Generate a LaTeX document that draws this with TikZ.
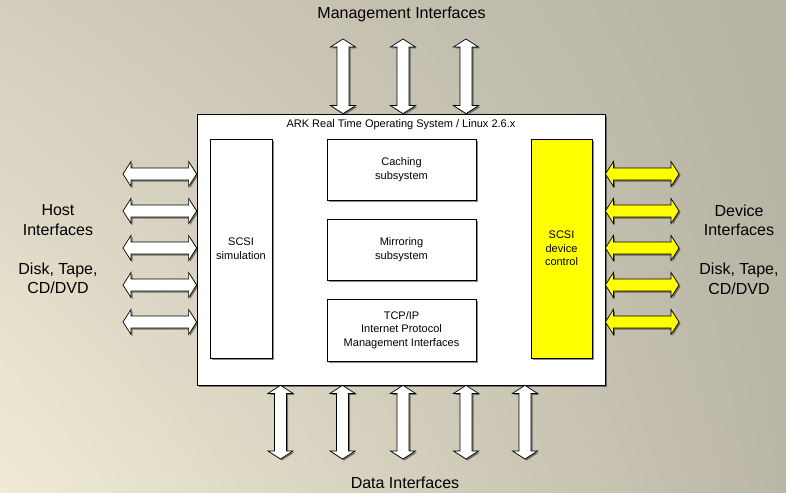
\documentclass[tikz,border=0pt]{standalone}
\usepackage{fontspec}
\setmainfont{Liberation Sans}
\usetikzlibrary{calc,shadows,shadings}
\definecolor{bgUL}{RGB}{210,205,189}
\definecolor{bgLL}{RGB}{241,235,213}
\definecolor{bgUR}{RGB}{182,179,164}
\definecolor{bgLR}{RGB}{187,183,167}
\definecolor{ylw}{RGB}{255,255,0}
\tikzset{
  shd/.style={drop shadow={shadow xshift=1.5pt, shadow yshift=-1.5pt, fill=black, opacity=0.45}},
  box/.style={draw=black, line width=0.7pt, fill=white, inner sep=0pt, align=center,
    font=\fontsize{11}{13.5}\selectfont, shd},
  barrow/.style={draw=black, line width=0.7pt, line join=miter, shd},
  biglabel/.style={font=\fontsize{16}{19.5}\selectfont, align=center, inner sep=0pt},
  smalllabel/.style={font=\fontsize{11}{13.5}\selectfont, inner sep=0pt},
}
% vertical double block arrow: #1 fill, #2 upper end, #3 lower end
\newcommand\vdarrow[3]{%
  \draw[barrow, fill=#1] let \p1=#2, \p2=#3 in
    (\x1,\y1) -- (\x1+12.5pt,\y1-8pt) -- (\x1+6pt,\y1-8pt) -- (\x1+6pt,\y2+8pt)
    -- (\x1+12.5pt,\y2+8pt) -- (\x1,\y2) -- (\x1-12.5pt,\y2+8pt) -- (\x1-6pt,\y2+8pt)
    -- (\x1-6pt,\y1-8pt) -- (\x1-12.5pt,\y1-8pt) -- cycle;}
% horizontal double block arrow: #1 fill, #2 left end, #3 right end
\newcommand\hdarrow[3]{%
  \draw[barrow, fill=#1] let \p1=#2, \p2=#3 in
    (\x1,\y1) -- (\x1+8pt,\y1+12.5pt) -- (\x1+8pt,\y1+6pt) -- (\x2-8pt,\y1+6pt)
    -- (\x2-8pt,\y1+12.5pt) -- (\x2,\y1) -- (\x2-8pt,\y1-12.5pt) -- (\x2-8pt,\y1-6pt)
    -- (\x1+8pt,\y1-6pt) -- (\x1+8pt,\y1-12.5pt) -- cycle;}
\begin{document}
\begin{tikzpicture}[x=1pt,y=-1pt]
\useasboundingbox (0,0) rectangle (786,492);
\shade[upper left=bgUL, lower left=bgLL, upper right=bgUR, lower right=bgLR] (0,0) rectangle (786,492);

% main OS box
\node[box, line width=0.8pt, minimum width=408pt, minimum height=271pt] (os) at (401,249.5) {};
\node[smalllabel, anchor=base] (title) at (401,128) {ARK Real Time Operating System / Linux 2.6.x};

% inner boxes
\node[box, minimum width=62pt, minimum height=219pt] (sim) at (241,248.5) {SCSI\\simulation};
\node[box, fill=ylw, minimum width=61pt, minimum height=219pt] (dev) at (561.5,248.5) {SCSI\\device\\control};
\node[box, minimum width=149pt, minimum height=61pt] (cache) at (401.5,169.5) {Caching\\subsystem};
\node[box, minimum width=149pt, minimum height=61pt] (mirror) at (401.5,249.5) {Mirroring\\subsystem};
\node[box, minimum width=149pt, minimum height=62pt] (tcp) at (401.5,330) {TCP/IP\\Internet Protocol\\Management Interfaces};

% management interface arrows (top)
\coordinate (mt1) at (343,39);
\coordinate (mt2) at (403,39);
\coordinate (mt3) at (466,39);
\foreach \c in {mt1,mt2,mt3} {\vdarrow{white}{(\c)}{(\c |- os.north)}}

% data interface arrows (bottom)
\coordinate (db1) at (280.5,459);
\coordinate (db2) at (342.5,459);
\coordinate (db3) at (403,459);
\coordinate (db4) at (466,459);
\coordinate (db5) at (525,459);
\foreach \c in {db1,db2,db3,db4,db5} {\vdarrow{white}{(\c |- os.south)}{(\c)}}

% host interface arrows (left)
\coordinate (hl1) at (123,174);
\coordinate (hl2) at (123,211);
\coordinate (hl3) at (123,248);
\coordinate (hl4) at (123,285);
\coordinate (hl5) at (123,322);
\foreach \c in {hl1,hl2,hl3,hl4,hl5} {\hdarrow{white}{(\c)}{(\c -| os.west)}}

% device interface arrows (right)
\coordinate (dr1) at (679,174);
\coordinate (dr2) at (679,211);
\coordinate (dr3) at (679,248);
\coordinate (dr4) at (679,285);
\coordinate (dr5) at (679,322);
\foreach \c in {dr1,dr2,dr3,dr4,dr5} {\hdarrow{ylw}{(\c -| os.east)}{(\c)}}

% labels
\node[biglabel, anchor=base] (mgmt) at (401.5,19) {Management Interfaces};
\node[biglabel, anchor=base] (data) at (405,488) {Data Interfaces};
\node[biglabel, anchor=north] (host) at (58,204.5) {Host\\Interfaces\\[19.5pt]Disk, Tape,\\CD/DVD};
\node[biglabel, anchor=north] (devlab) at (739,204.5) {Device\\Interfaces\\[19.5pt]Disk, Tape,\\CD/DVD};
\end{tikzpicture}
\end{document}
